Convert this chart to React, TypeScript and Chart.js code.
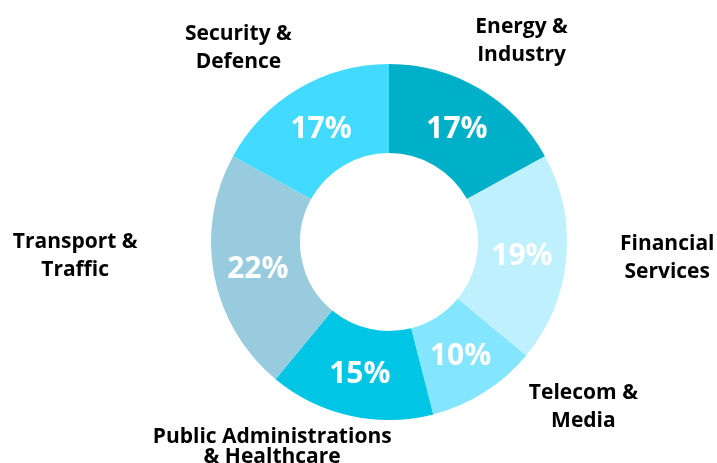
import React, { useEffect, useRef } from "react";
import { Chart, registerables } from "chart.js";

Chart.register(...registerables);

const categories: string[][] = [
  ["Energy &", "Industry"],
  ["Financial", "Services"],
  ["Telecom &", "Media"],
  ["Public Administrations", "& Healthcare"],
  ["Transport &", "Traffic"],
  ["Security &", "Defence"],
];
const shares: number[] = [17, 19, 10, 15, 22, 17];
const sliceColors: string[] = ["#00AFC8", "#BEF0FD", "#84E5FE", "#00C5E5", "#97CBDD", "#42DAFE"];

// label placement (style): offset from the slice's outer mid-point, and line spacing
const labelOffsets: [number, number][] = [
  [42, -49],
  [101, -2],
  [99, 13],
  [-78, 30],
  [-139, -21],
  [-60, -42],
];
const labelLineHeights: number[] = [28, 28, 28, 20, 28, 28];

const FONT = "'Open Sans', 'Noto Sans', sans-serif";

const labelPlugin = {
  id: "sliceLabels",
  afterDatasetsDraw(chart: any) {
    const ctx = chart.ctx as CanvasRenderingContext2D;
    const meta = chart.getDatasetMeta(0);
    const data = chart.data.datasets[0].data as number[];
    const labels = chart.data.labels as string[][];
    ctx.save();
    meta.data.forEach((arc: any, i: number) => {
      const p = arc.getProps(["x", "y", "startAngle", "endAngle", "innerRadius", "outerRadius"], true);
      const mid = (p.startAngle + p.endAngle) / 2;
      const rMid = (p.innerRadius + p.outerRadius) / 2;
      // percent value
      const pctSize = 30;
      ctx.font = `bold ${pctSize}px ${FONT}`;
      ctx.fillStyle = "#ffffff";
      ctx.textAlign = "center";
      ctx.textBaseline = "alphabetic";
      const cx = p.x + Math.cos(mid) * rMid;
      const cy = p.y + Math.sin(mid) * rMid;
      ctx.fillText(`${data[i]}%`, cx, cy + pctSize * 0.357);
      // category label
      const lblSize = 21;
      ctx.font = `bold ${lblSize}px ${FONT}`;
      ctx.fillStyle = "#000000";
      const ox = p.x + Math.cos(mid) * p.outerRadius + labelOffsets[i][0];
      const oy = p.y + Math.sin(mid) * p.outerRadius + labelOffsets[i][1];
      const lines = labels[i];
      const lh = labelLineHeights[i];
      lines.forEach((line, j) => {
        const by = oy + (j - (lines.length - 1) / 2) * lh + lblSize * 0.357;
        ctx.fillText(line, ox, by);
      });
    });
    ctx.restore();
  },
};

export default function App() {
  const ref = useRef<HTMLCanvasElement | null>(null);
  useEffect(() => {
    if (!ref.current) return;
    const chart = new Chart(ref.current, {
      type: "doughnut",
      data: {
        labels: categories as any,
        datasets: [
          {
            data: shares,
            backgroundColor: sliceColors,
            borderWidth: 0,
          },
        ],
      },
      options: {
        animation: false,
        responsive: false,
        cutout: "50%",
        layout: { padding: { top: 64, bottom: 43, left: 211, right: 150 } },
        plugins: {
          legend: { display: false },
          tooltip: { enabled: false },
        },
      },
      plugins: [labelPlugin],
    });
    return () => chart.destroy();
  }, []);
  return (
    <div style={{ position: "absolute", left: 0, top: 0, width: 717, height: 463, background: "#fff" }}>
      <canvas ref={ref} width={717} height={463} style={{ display: "block" }} />
    </div>
  );
}
